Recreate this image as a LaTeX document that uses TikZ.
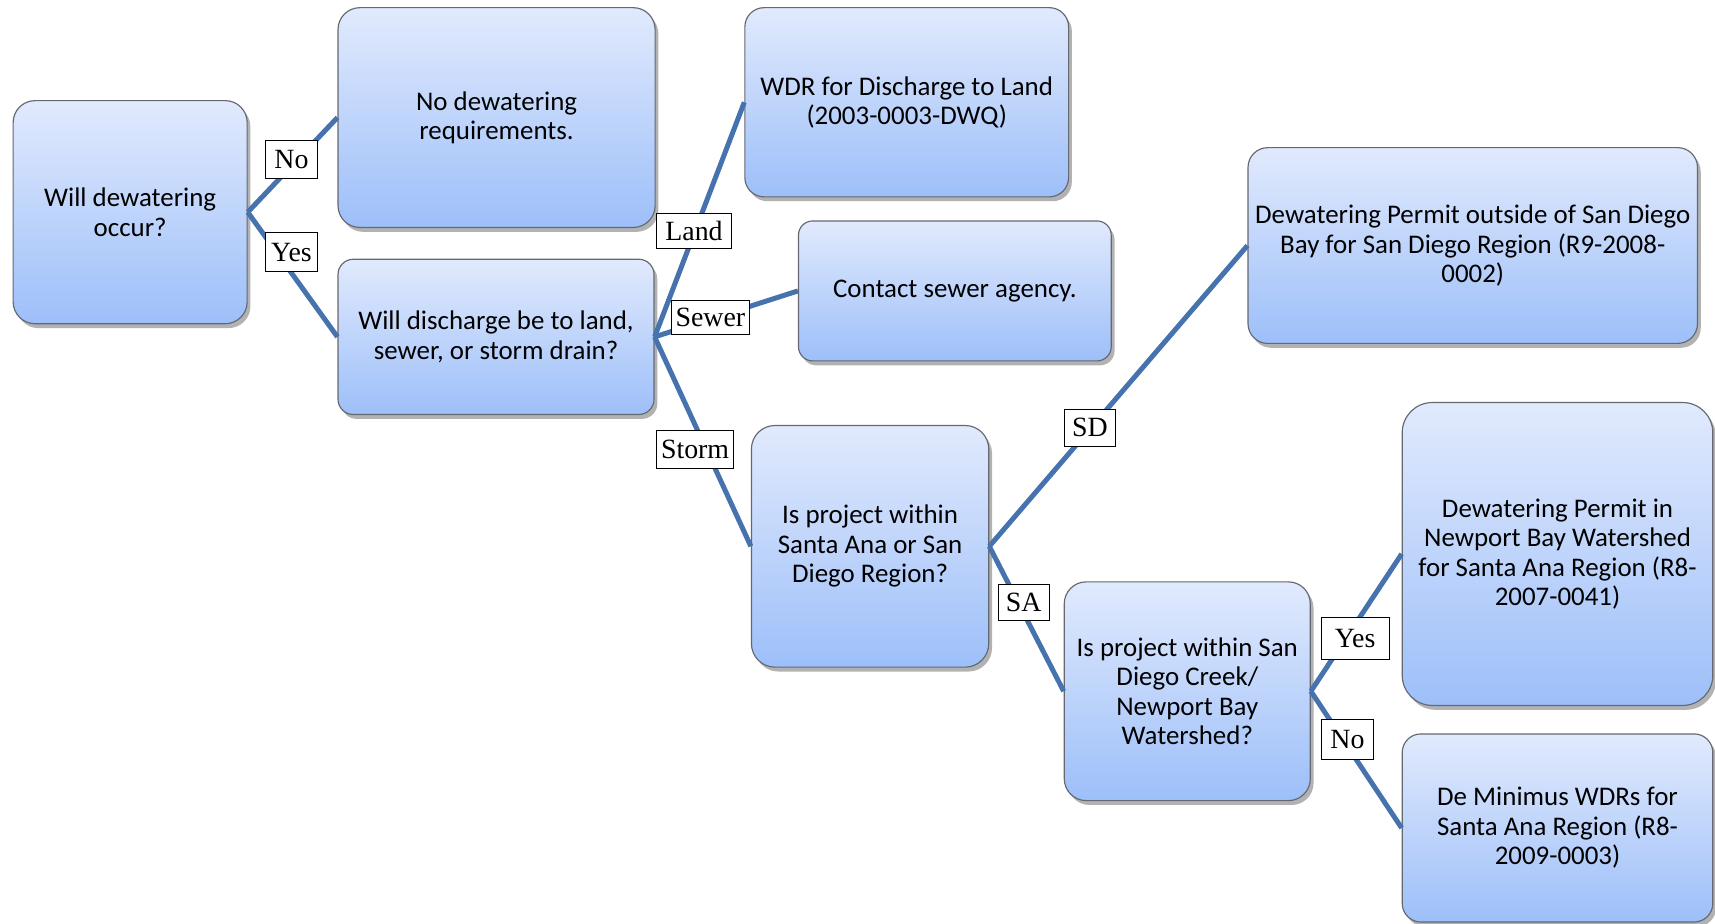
\documentclass[tikz,border=0pt]{standalone}
\usepackage{fontspec}
\setmainfont{Carlito}
\newfontfamily\answerfont{Liberation Serif}
\usepackage{tikz}
\usetikzlibrary{shadows}
\definecolor{boxtop}{RGB}{225,234,253}
\definecolor{boxbottom}{RGB}{157,191,249}
\definecolor{boxedge}{RGB}{100,104,112}
\definecolor{branch}{RGB}{70,114,174}
\tikzset{
every picture/.style={line width=0.8pt},
%%%%%%%%%%  Node styles
decision/.style args={#1,#2,#3}{rectangle, rounded corners=#3cm, draw=boxedge,
                 line width=0.6pt, top color=boxtop, bottom color=boxbottom,
                 minimum width=#1cm, minimum height=#2cm, align=center,
                 font=\fontsize{14}{15.3}\selectfont,
                 drop shadow={shadow xshift=0.06cm, shadow yshift=-0.08cm,
                              fill=black, opacity=0.3}},
%% the little answer boxes sitting on the branches
answer/.style={rectangle, draw=black, line width=0.5pt, fill=white,
               inner xsep=0.08cm, inner ysep=0pt, minimum width=0.94cm,
               minimum height=0.7cm, font=\answerfont\fontsize{14.5}{16}\selectfont},
%%%% line styles
branch_line/.style={line width=2.6pt, draw=branch},
}

\begin{document}
\begin{tikzpicture}[x=0.02cm, y=-0.02cm]
\useasboundingbox (0,0) rectangle (1568,844);
%% boxes
\node[decision={4.28,4.08,0.4}] (dewater) at (119,194) {Will dewatering\\occur?};
\node[decision={5.8,4.02,0.4}] (nodewater) at (454,107.5) {No dewatering\\requirements.};
\node[decision={5.78,2.84,0.28}] (discharge) at (453.5,308) {Will discharge be to land,\\sewer, or storm drain?};
\node[decision={5.92,3.46,0.35}] (land) at (829,93.5) {WDR for Discharge to Land\\(2003-0003-DWQ)};
\node[decision={5.72,2.56,0.26}] (sewer) at (873,266) {Contact sewer agency.};
\node[decision={4.34,4.42,0.43}] (region) at (795.5,499.5) {Is project within\\Santa Ana or San\\Diego Region?};
\node[decision={8.22,3.58,0.36}] (sandiego) at (1346.5,224.5) {Dewatering Permit outside of San Diego\\Bay for San Diego Region (R9-2008-\\0002)};
\node[decision={4.5,4.0,0.4}] (watershed) at (1085.5,632) {Is project within San\\Diego Creek/\\Newport Bay\\Watershed?};
\node[decision={5.68,5.54,0.55}] (newport) at (1424,506.5) {Dewatering Permit in\\Newport Bay Watershed\\for Santa Ana Region (R8-\\2007-0041)};
\node[decision={5.68,3.44,0.34}] (deminimus) at (1424,757) {De Minimus WDRs for\\Santa Ana Region (R8-\\2009-0003)};

%% branches
\draw[branch_line] (dewater.east) -- (nodewater.west);
\draw[branch_line] (dewater.east) -- (discharge.west);
\draw[branch_line] (discharge.east) -- (land.west);
\draw[branch_line] (discharge.east) -- (sewer.west);
\draw[branch_line] (discharge.east) -- (region.west);
\draw[branch_line] (region.east) -- (sandiego.west);
\draw[branch_line] (region.east) -- (watershed.west);
\draw[branch_line] (watershed.east) -- (newport.west);
\draw[branch_line] (watershed.east) -- (deminimus.west);

%% answers
\node[answer] (no_a) at (266.5,145.5) {No};
\node[answer] (yes_a) at (266.5,230.5) {Yes};
\node[answer, minimum width=1.38cm, minimum height=0.64cm] (land_a) at (634.5,211) {Land};
\node[answer, minimum height=0.62cm] (sewer_a) at (649.5,290.5) {Sewer};
\node[answer, minimum height=0.68cm] (storm_a) at (635.5,411) {Storm};
\node[answer, minimum height=0.68cm] (sd_a) at (996.5,391) {SD};
\node[answer, minimum height=0.66cm] (sa_a) at (936,550.5) {SA};
\node[answer, minimum width=1.24cm, minimum height=0.76cm] (yes_b) at (1239,584) {Yes};
\node[answer, minimum height=0.72cm] (no_b) at (1232,676) {No};
\end{tikzpicture}
\end{document}
